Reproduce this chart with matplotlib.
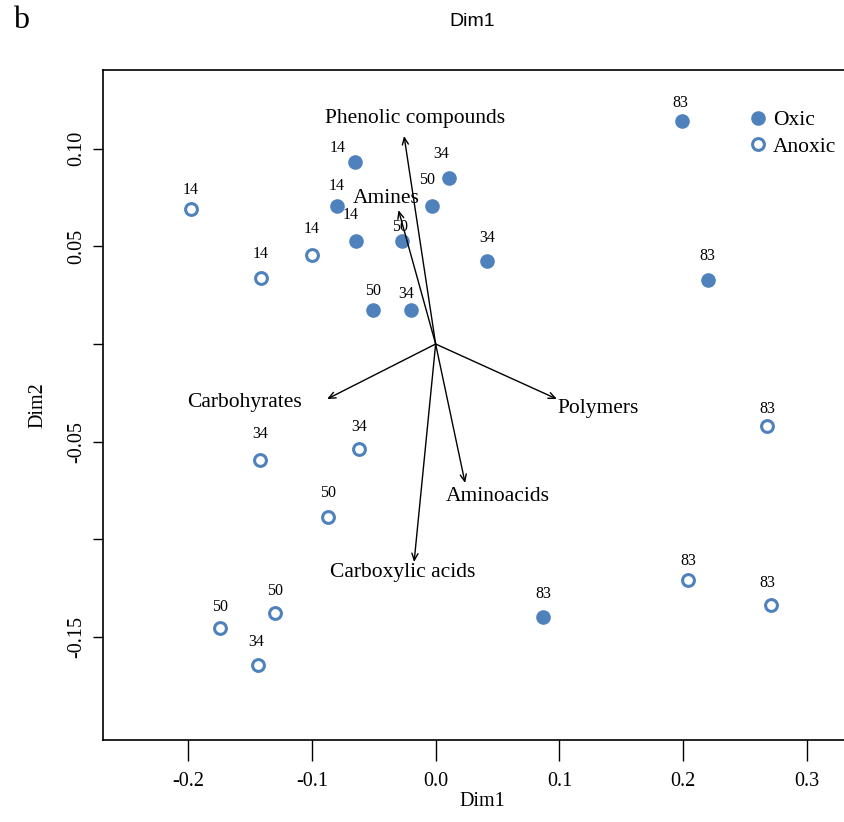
import matplotlib.pyplot as plt

# sample scores (Dim1, Dim2) and incubation labels
oxic_x = [0.199, -0.0651, 0.0108, -0.0800, -0.0029, -0.0643, -0.0271, 0.0415, 0.220, -0.0506, -0.0195, 0.0868]
oxic_y = [0.1142, 0.0935, 0.0850, 0.0707, 0.0707, 0.0528, 0.0528, 0.0423, 0.0328, 0.0174, 0.0174, -0.1399]
oxic_lab = ['83', '14', '34', '14', '50', '14', '50', '34', '83', '50', '34', '83']

anox_x = [-0.1976, -0.0998, -0.141, 0.2677, -0.1418, -0.0618, -0.0869, 0.204, 0.2710, -0.1296, -0.174, -0.1435]
anox_y = [0.0692, 0.0456, 0.0338, -0.042, -0.0594, -0.0538, -0.0886, -0.1209, -0.1337, -0.1378, -0.1455, -0.1644]
anox_lab = ['14', '14', '14', '83', '34', '34', '50', '83', '83', '50', '50', '34']

# variable loadings (arrow tips) and label anchors
var_names = ['Phenolic compounds', 'Amines', 'Carbohyrates', 'Polymers', 'Aminoacids', 'Carboxylic acids']
var_x = [-0.0255, -0.030, -0.0877, 0.098, 0.0238, -0.0174]
var_y = [0.1066, 0.0686, -0.0282, -0.0282, -0.0712, -0.1117]
var_lx = [-0.0166, -0.040, -0.154, 0.131, 0.0504, -0.0263]
var_ly = [0.1158, 0.0748, -0.0302, -0.0328, -0.0779, -0.1173]

# label nudges in pixels (dx, dy up)
oxic_nudge = [(-2, 18), (-17, 14), (-8, 24), (0, 20), (-5, 26), (-5, 26), (-2, 14), (0, 23), (-1, 24), (0, 19), (-5, 16), (0, 23)]
anox_nudge = [(0, 19), (0, 26), (0, 24), (0, 17), (0, 26), (0, 22), (0, 24), (0, 19), (-4, 22), (0, 22), (0, 21), (-2, 23)]

blue = '#4F81BD'
plt.rcParams['font.family'] = 'Liberation Serif'

fig = plt.figure(figsize=(8.45, 8.22), dpi=100)
ax = fig.add_axes([103 / 845, 82 / 822, 758 / 845, 670 / 822])

ax.plot(oxic_x, oxic_y, 'o', ms=9.5, color=blue, mec=blue, label='Oxic', zorder=3)
ax.plot(anox_x, anox_y, 'o', ms=8.5, mfc='white', mec=blue, mew=2.2, label='Anoxic', zorder=3)

for xs, ys, labs, nud in [(oxic_x, oxic_y, oxic_lab, oxic_nudge), (anox_x, anox_y, anox_lab, anox_nudge)]:
    for x, y, t, (dx, dy) in zip(xs, ys, labs, nud):
        ax.annotate(t, (x, y), xytext=(dx * 0.72, dy * 0.72), textcoords='offset points',
                    ha='center', va='center', fontsize=11.5)

for name, x, y, lx, ly in zip(var_names, var_x, var_y, var_lx, var_ly):
    ax.annotate('', xy=(x, y), xytext=(0, 0),
                arrowprops=dict(arrowstyle='->,head_length=0.5,head_width=0.22', lw=1.0,
                                color='black', shrinkA=0, shrinkB=0))
    ax.text(lx, ly, name, ha='center', va='center', fontsize=15.5)

ax.set_xlim(-0.2687, 0.3436)
ax.set_ylim(-0.2029, 0.1404)
ax.set_xticks([-0.2, -0.1, 0.0, 0.1, 0.2, 0.3])
ax.set_xticklabels(['-0.2', '-0.1', '0.0', '0.1', '0.2', '0.3'])
ax.set_yticks([-0.15, -0.10, -0.05, 0.0, 0.05, 0.10])
ax.set_yticklabels(['-0.15', '', '-0.05', '', '0.05', '0.10'], rotation=90, va='center')
ax.tick_params(axis='x', length=15, width=1, labelsize=14.5, pad=8)
ax.tick_params(axis='y', length=7.2, width=1, labelsize=14.5, pad=5)
for s in ax.spines.values():
    s.set_linewidth(1.2)

ax.set_xlabel('Dim1', fontsize=14.5, labelpad=1)
ax.set_ylabel('Dim2', fontsize=14.5, labelpad=14)

ax.legend(loc='upper left', bbox_to_anchor=(749 / 845, 1 - 110 / 822), bbox_transform=fig.transFigure,
          frameon=False, fontsize=15.5, borderpad=0, borderaxespad=0, handlelength=0.8,
          handletextpad=0.3, labelspacing=0.3)

fig.text(472 / 845, 1 - 22 / 822, 'Dim1', family='Liberation Sans', fontsize=14, ha='center', va='center')
fig.text(21 / 845, 1 - 21 / 822, 'b', fontsize=23, ha='center', va='center')

fig.savefig('out.png', dpi=100)
